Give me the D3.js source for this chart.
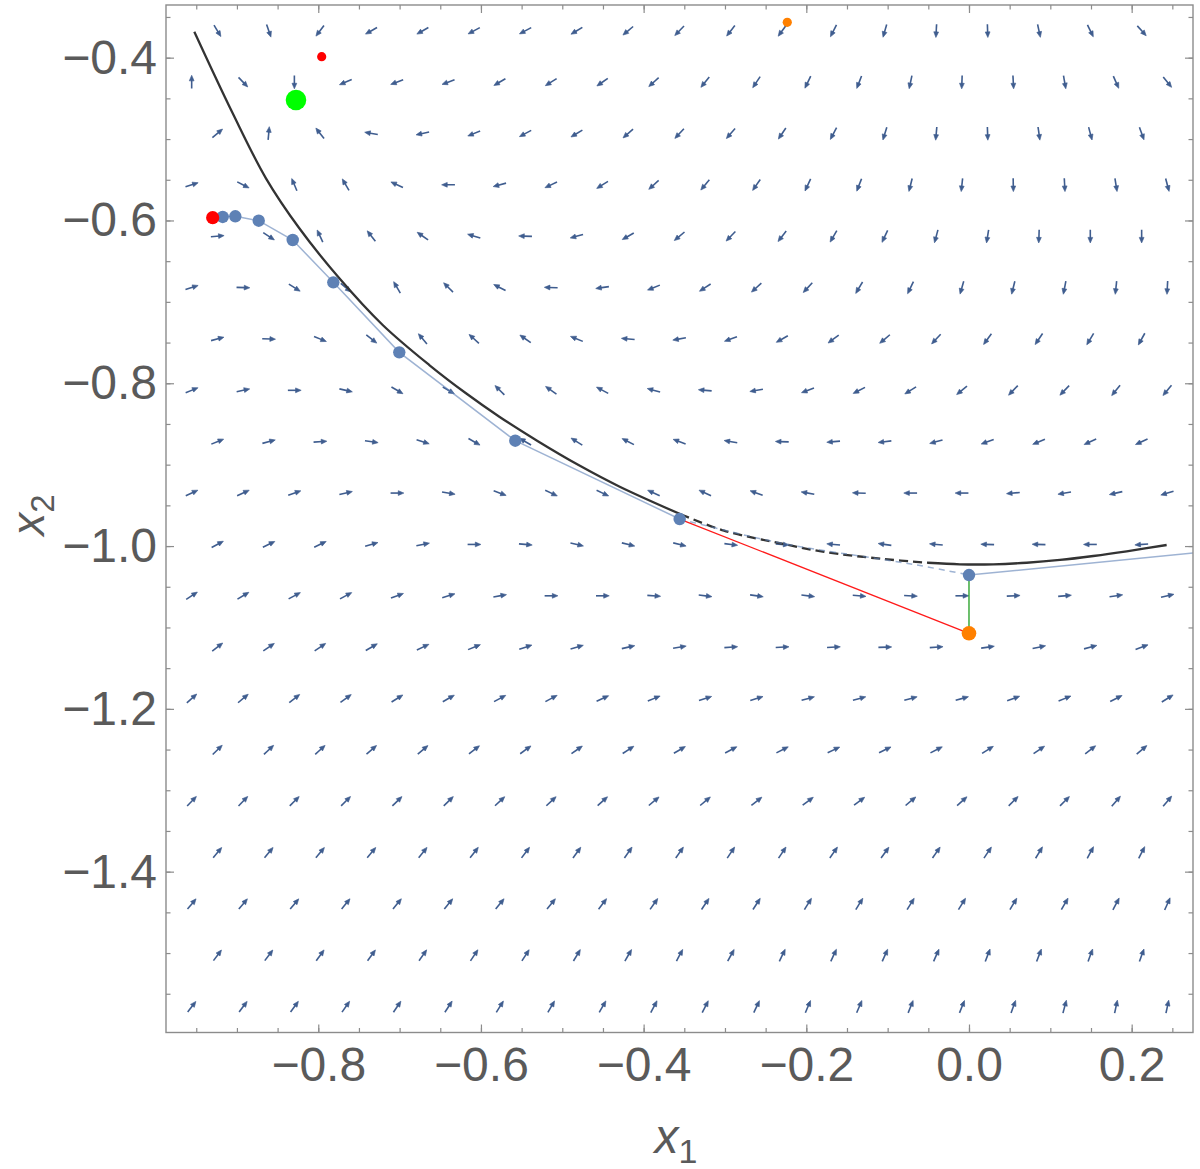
<!DOCTYPE html>
<html>
<head>
<meta charset="utf-8">
<script src="https://cdn.jsdelivr.net/npm/d3@7"></script>
<style>
  body { margin: 0; background: #fff; }
  svg { display: block; font-family: "Liberation Sans", Arial, sans-serif; }
  .tick line { stroke: #8c8c8c; stroke-width: 1.2; }
  .tick text { fill: #5a5a5a; font-size: 48px; }
  .frame { fill: none; stroke: #8c8c8c; stroke-width: 1.4; }
  .arrow { fill: #3f5d8f; stroke: #3f5d8f; stroke-width: 1.6; }
  .curve { fill: none; stroke: #333; stroke-width: 2.3; }
  .traj { fill: none; stroke: #5e81b5; stroke-opacity: 0.6; stroke-width: 1.5; }
</style>
</head>
<body>
<svg id="chart" width="1200" height="1169"></svg>
<script>
// plot range
const xRange = [-0.9872, 0.2754];
const yRange = [-1.5976, -0.3353];

const xMajor = [-0.8, -0.6, -0.4, -0.2, 0.0, 0.2];
const yMajor = [-1.4, -1.2, -1.0, -0.8, -0.6, -0.4];

// arrow directions (degrees, counter-clockwise from +x1), row by row from the top.
// even rows are shifted half a cell to the right and have 19 arrows
const fieldAngles = [
  [-59, -71, -127, -150, -150, -152, -152, -149, -140, -134, -128, -126, -117, -106, -93, -88, -78, -64, -48],
  [90, -46, -90, -157, -160, -160, -150, -148, -145, -138, -129, -124, -116, -111, -102, -92, -87, -80, -66, -51],
  [40, 85, 128, 170, -168, -158, -152, -149, -139, -133, -131, -124, -118, -107, -95, -88, -82, -75, -70],
  [18, -27, 113, 120, 155, 180, -165, -155, -148, -138, -130, -125, -115, -111, -104, -96, -89, -87, -81, -75],
  [5, -33, 115, 128, 145, 163, 178, -165, -150, -140, -134, -128, -120, -115, -105, -99, -92, -90, -90],
  [18, -2, -32, -40, 120, 135, 153, 178, -172, -158, -147, -138, -133, -121, -116, -106, -104, -101, -96, -93],
  [15, -2, -22, -38, 130, 138, 145, 158, 175, -170, -160, -150, -143, -140, -133, -126, -124, -121, -119],
  [22, 12, 0, -13, -30, -30, 135, 145, 152, 165, 175, -170, -160, -153, -148, -141, -134, -134, -129, -130],
  [22, 15, 4, -8, -18, -30, 150, 148, 153, 160, 170, 178, -175, -173, -165, -160, -157, -155, -155],
  [25, 25, 19, 13, 0, -10, -20, -25, -25, 155, 155, 160, 170, 178, 180, 180, -175, -170, -167, -163],
  [28, 26, 26, 16, 11, 0, -5, -13, -14, -14, -7, -5, 175, 172, 175, 178, 178, 180, -176],
  [33, 31, 28, 28, 20, 17, 10, 0, 0, -4, -7, -8, -7, -5, -3, 0, 3, 5, 8, 13],
  [38, 34, 34, 30, 25, 22, 18, 16, 13, 9, 4, 3, 3, 2, 4, 8, 12, 15, 20],
  [42, 40, 38, 36, 32, 30, 28, 28, 25, 22, 18, 17, 15, 15, 15, 16, 20, 22, 27, 32],
  [44, 43, 42, 41, 40, 38, 36, 35, 33, 30, 28, 27, 25, 26, 27, 32, 34, 38, 40],
  [46, 46, 45, 45, 44, 44, 43, 43, 42, 40, 40, 38, 37, 37, 40, 42, 45, 45, 49, 50],
  [50, 50, 50, 50, 51, 52, 53, 54, 55, 55, 56, 56, 55, 54, 55, 56, 59, 62, 63],
  [50, 50, 50, 51, 51, 51, 51, 51, 53, 55, 56, 57, 58, 58, 58, 58, 59, 60, 62, 66],
  [53, 53, 54, 54, 55, 56, 57, 59, 60, 62, 61, 64, 65, 66, 66, 69, 69, 70, 70],
  [52, 53, 54, 55, 56, 57, 58, 60, 60, 62, 63, 65, 67, 67, 68, 68, 70, 75, 78, 78]
];

// constraint curve: solid, dashed middle piece, solid
const curveStart = [
  [-0.9524, -0.3681], [-0.9052, -0.4683], [-0.8643, -0.5482], [-0.8233, -0.6096],
  [-0.7741, -0.6710], [-0.7208, -0.7284], [-0.6635, -0.7776], [-0.6184, -0.8123],
  [-0.5774, -0.8411], [-0.5300, -0.8712], [-0.4800, -0.9005], [-0.4300, -0.9268],
  [-0.3544, -0.9610]
];
const curveDashed = [
  [-0.3544, -0.9610], [-0.3012, -0.9810], [-0.2274, -0.9975], [-0.1780, -1.0072],
  [-0.1045, -1.0160], [-0.0504, -1.0205]
];
const curveEnd = [
  [-0.0504, -1.0205], [-0.0111, -1.0224], [0.0299, -1.0224], [0.0710, -1.0205],
  [0.1119, -1.0171], [0.1528, -1.0122], [0.1939, -1.0064], [0.2430, -0.9987]
];

// iterates
const iterX = [-0.9175, -0.9020, -0.8732, -0.8314, -0.7815, -0.7004, -0.5578, -0.3557, 0.0];
const iterY = [-0.5957, -0.5949, -0.6003, -0.6240, -0.6760, -0.7620, -0.8706, -0.9668, -1.0356];
const startPoint = [-0.9298, -0.5966];
const exitPoint = [0.40, -0.9962];
const trajDashed = [
  [-0.3557, -0.9668], [-0.2606, -0.9901], [-0.2053, -1.0012], [-0.1340, -1.0122],
  [-0.0639, -1.0233], [0.0, -1.0356]
];

const stepPoint = [0.0, -1.1072];
const optimum = [-0.8274, -0.4520];
const redSmall = [-0.7958, -0.3988];
const orangeSmall = [-0.2234, -0.3566];

const svg = d3.select("#chart");
const x = d3.scaleLinear().domain(xRange).range([166, 1193]);
const y = d3.scaleLinear().domain(yRange).range([1032.5, 5]);

svg.append("defs").append("clipPath").attr("id", "plot")
  .append("rect")
  .attr("x", x(xRange[0])).attr("y", y(yRange[1]))
  .attr("width", x(xRange[1]) - x(xRange[0]))
  .attr("height", y(yRange[0]) - y(yRange[1]));

const plot = svg.append("g").attr("clip-path", "url(#plot)");

// vector field
const dx = (xRange[1] - xRange[0]) / 20;
const dy = (yRange[1] - yRange[0]) / 20;
const arrows = [];
fieldAngles.forEach((row, j) => {
  const shift = j % 2 === 0 ? 1 : 0.5;
  row.forEach((a, k) => {
    arrows.push({ px: xRange[0] + (k + shift) * dx, py: yRange[1] - (j + 0.5) * dy, a });
  });
});

const arrowG = plot.append("g").selectAll("g")
  .data(arrows)
  .join("g")
  .attr("class", "arrow")
  .attr("transform", d => `translate(${x(d.px)},${y(d.py)}) rotate(${-d.a})`);
arrowG.append("line").attr("x1", -6.5).attr("x2", 2.5).attr("y1", 0).attr("y2", 0);
arrowG.append("path").attr("d", "M6.8,0L1.2,-2.4L1.2,2.4Z").attr("stroke-width", 0.6);

const line = d3.line().x(d => x(d[0])).y(d => y(d[1]));
const smooth = d3.line().x(d => x(d[0])).y(d => y(d[1])).curve(d3.curveCatmullRom);

plot.append("path").datum(curveStart).attr("class", "curve").attr("d", smooth);
plot.append("path").datum(curveDashed).attr("class", "curve")
  .attr("stroke-dasharray", "9,5").attr("d", smooth);
plot.append("path").datum(curveEnd).attr("class", "curve").attr("d", smooth);

const iterates = iterX.map((v, i) => [v, iterY[i]]);
plot.append("path").datum([startPoint, ...iterates.slice(0, 8)]).attr("class", "traj").attr("d", line);
plot.append("path").datum(trajDashed).attr("class", "traj")
  .attr("stroke-dasharray", "6,5").attr("stroke-width", 1.2).attr("d", smooth);
plot.append("path").datum([iterates[8], exitPoint]).attr("class", "traj").attr("d", line);

plot.append("path").datum([iterates[7], stepPoint])
  .attr("fill", "none").attr("stroke", "#ff1a1a").attr("stroke-width", 1.3).attr("d", line);
plot.append("path").datum([iterates[8], stepPoint])
  .attr("fill", "none").attr("stroke", "#1f9e1f").attr("stroke-width", 1.3).attr("d", line);

plot.append("g").selectAll("circle")
  .data(iterates)
  .join("circle")
  .attr("cx", d => x(d[0])).attr("cy", d => y(d[1]))
  .attr("r", 6.2).attr("fill", "#5e81b5");

const dots = [
  { p: startPoint, r: 6.6, c: "#ff0000" },
  { p: stepPoint, r: 7.3, c: "#ff8000" },
  { p: optimum, r: 10.3, c: "#00ff00" },
  { p: redSmall, r: 4.6, c: "#ff0000" },
  { p: orangeSmall, r: 4.6, c: "#ff8000" }
];
plot.append("g").selectAll("circle")
  .data(dots)
  .join("circle")
  .attr("cx", d => x(d.p[0])).attr("cy", d => y(d.p[1]))
  .attr("r", d => d.r).attr("fill", d => d.c);

// axes: minor every 0.05, major every 0.2
const minorX = d3.range(-19, 6).map(i => i * 0.05).filter(v => v > xRange[0] && v < xRange[1]);
const minorY = d3.range(-31, -6).map(i => i * 0.05).filter(v => v > yRange[0] && v < yRange[1]);
const fmt = d3.format(".1f");
const x0 = y(yRange[0]), x1 = y(yRange[1]);
const yl = x(xRange[0]), yr = x(xRange[1]);

function axis(gen, tr, values, size, labels) {
  const g = svg.append("g").attr("transform", tr)
    .call(gen.tickValues(values).tickSize(size).tickSizeOuter(0)
      .tickPadding(labels ? 14 : 0).tickFormat(labels ? fmt : ""));
  g.select(".domain").remove();
  return g;
}
axis(d3.axisBottom(x), `translate(0,${x0})`, minorX, -4.5, false);
axis(d3.axisBottom(x), `translate(0,${x0})`, xMajor, -8, true);
axis(d3.axisTop(x), `translate(0,${x1})`, minorX, -4.5, false);
axis(d3.axisTop(x), `translate(0,${x1})`, xMajor, -8, false);
axis(d3.axisLeft(y), `translate(${yl},0)`, minorY, -4.5, false);
axis(d3.axisLeft(y), `translate(${yl},0)`, yMajor, -8, true).selectAll("text").attr("x", -9);
axis(d3.axisRight(y), `translate(${yr},0)`, minorY, -4.5, false);
axis(d3.axisRight(y), `translate(${yr},0)`, yMajor, -8, false);

svg.append("rect").attr("class", "frame")
  .attr("x", yl).attr("y", x1).attr("width", yr - yl).attr("height", x0 - x1);

// axis titles
const xt = svg.append("text").attr("x", 676).attr("y", 1153)
  .attr("text-anchor", "middle").attr("fill", "#5a5a5a");
xt.append("tspan").attr("font-style", "italic").attr("font-size", 48).text("x");
xt.append("tspan").attr("font-size", 34).attr("dy", 10).text("1");

const yt = svg.append("text").attr("transform", "translate(44,515) rotate(-90)")
  .attr("text-anchor", "middle").attr("fill", "#5a5a5a");
yt.append("tspan").attr("font-style", "italic").attr("font-size", 46).text("x");
yt.append("tspan").attr("font-size", 33).attr("dy", 10).text("2");
</script>
</body>
</html>
